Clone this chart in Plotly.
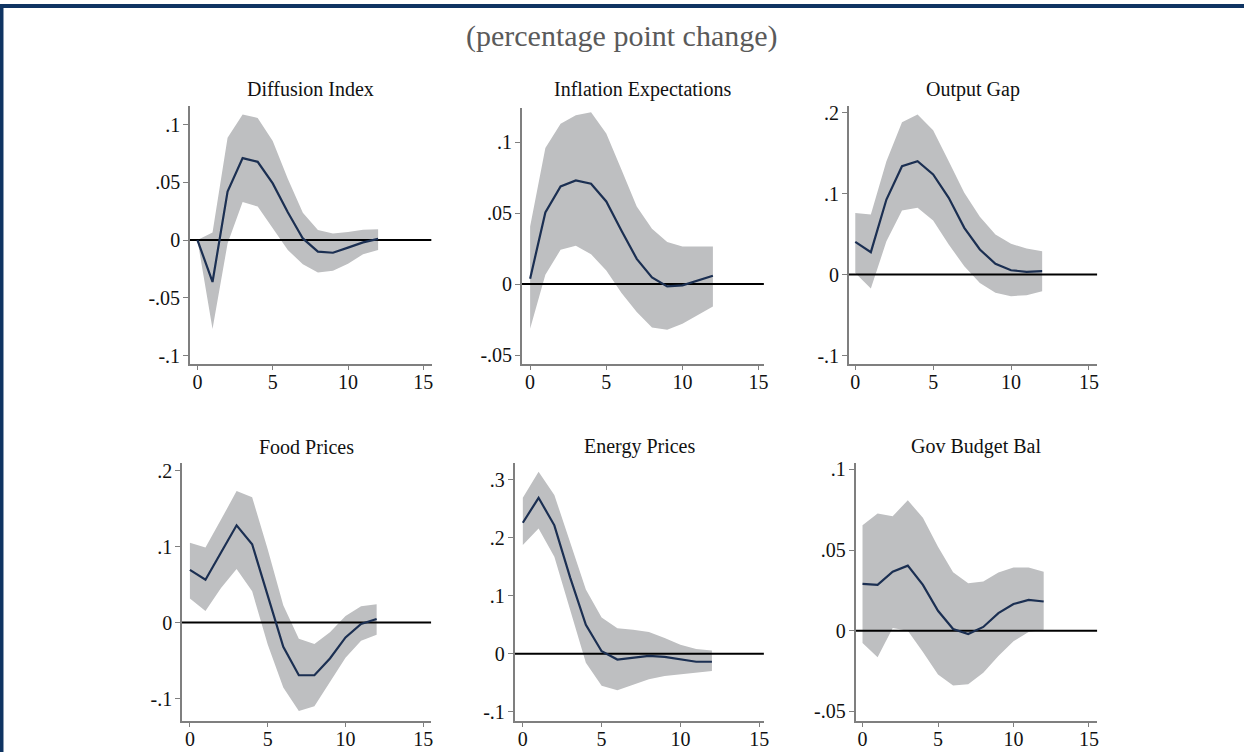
import plotly.graph_objects as go

# ---------------- data ----------------
horizon = list(range(13))
titles = ["Diffusion Index", "Inflation Expectations", "Output Gap",
          "Food Prices", "Energy Prices", "Gov Budget Bal"]

diff_mean = [0.0, -0.0363, 0.042, 0.0709, 0.0677, 0.049, 0.024, 0.0014, -0.010, -0.011, -0.0066, -0.002, 0.001]
diff_upper = [0.0, 0.0066, 0.0886, 0.1086, 0.1057, 0.0857, 0.053, 0.0237, 0.0086, 0.0057, 0.007, 0.0089, 0.0094]
diff_lower = [0.0, -0.077, -0.003, 0.033, 0.029, 0.010, -0.0086, -0.021, -0.028, -0.0266, -0.0206, -0.0123, -0.0086]

infl_mean = [0.0038, 0.0505, 0.0688, 0.073, 0.0707, 0.0582, 0.0376, 0.0178, 0.0047, -0.0016, -0.0009, 0.0023, 0.0059]
infl_upper = [0.0406, 0.0958, 0.113, 0.119, 0.121, 0.106, 0.0805, 0.0547, 0.039, 0.0296, 0.0265, 0.0265, 0.0265]
infl_lower = [-0.0315, 0.0066, 0.0242, 0.027, 0.0211, 0.0096, -0.0063, -0.0197, -0.0305, -0.0322, -0.0279, -0.0216, -0.0157]

gap_mean = [0.0403, 0.0276, 0.0926, 0.1337, 0.140, 0.1235, 0.0947, 0.0576, 0.0309, 0.0132, 0.0053, 0.0033, 0.0041]
gap_upper = [0.0761, 0.0741, 0.140, 0.188, 0.1975, 0.178, 0.140, 0.101, 0.0712, 0.0494, 0.0379, 0.0321, 0.0288]
gap_lower = [0.002, -0.0173, 0.041, 0.079, 0.0823, 0.0667, 0.037, 0.0103, -0.0103, -0.0226, -0.0267, -0.0255, -0.0206]

food_mean = [0.0693, 0.0563, 0.0922, 0.128, 0.103, 0.0338, -0.032, -0.0693, -0.0693, -0.0472, -0.0195, -0.0017, 0.0048]
food_upper = [0.105, 0.0987, 0.1355, 0.173, 0.165, 0.0965, 0.0229, -0.0212, -0.0281, -0.0126, 0.0087, 0.0216, 0.0242]
food_lower = [0.0316, 0.0152, 0.0455, 0.0706, 0.0411, -0.029, -0.0853, -0.1165, -0.110, -0.0788, -0.0463, -0.0238, -0.016]

energy_mean = [0.226, 0.269, 0.2216, 0.132, 0.050, 0.0045, -0.0097, -0.0068, -0.0034, -0.0051, -0.0091, -0.0136, -0.0136]
energy_upper = [0.269, 0.314, 0.274, 0.192, 0.111, 0.0625, 0.0443, 0.0415, 0.0375, 0.0273, 0.0159, 0.0085, 0.0057]
energy_lower = [0.1875, 0.216, 0.1676, 0.0756, -0.0153, -0.055, -0.0625, -0.0534, -0.0438, -0.038, -0.0352, -0.0335, -0.0295]

budget_mean = [0.029, 0.0284, 0.0366, 0.0403, 0.0284, 0.0123, 0.001, -0.0021, 0.0023, 0.0109, 0.0165, 0.0191, 0.0181]
budget_upper = [0.0654, 0.0726, 0.071, 0.0809, 0.070, 0.052, 0.0362, 0.0294, 0.0305, 0.036, 0.0391, 0.0391, 0.0366]
budget_lower = [-0.0076, -0.0165, 0.0016, 0.0, -0.0132, -0.0272, -0.034, -0.0333, -0.0261, -0.0158, -0.0066, -0.0008, 0.0006]

x_tickvals = [0, 5, 10, 15]
x_ticktext = ["0", "5", "10", "15"]
y_tickvals = [[-0.1, -0.05, 0, 0.05, 0.1], [-0.05, 0, 0.05, 0.1], [-0.1, 0, 0.1, 0.2],
              [-0.1, 0, 0.1, 0.2], [-0.1, 0, 0.1, 0.2, 0.3], [-0.05, 0, 0.05, 0.1]]
y_ticktext = [["-.1", "-.05", "0", ".05", ".1"], ["-.05", "0", ".05", ".1"], ["-.1", "0", ".1", ".2"],
              ["-.1", "0", ".1", ".2"], ["-.1", "0", ".1", ".2", ".3"], ["-.05", "0", ".05", ".1"]]

means = [diff_mean, infl_mean, gap_mean, food_mean, energy_mean, budget_mean]
uppers = [diff_upper, infl_upper, gap_upper, food_upper, energy_upper, budget_upper]
lowers = [diff_lower, infl_lower, gap_lower, food_lower, energy_lower, budget_lower]

# ---------------- layout ----------------
W, H = 1249, 755
boxes = [(190.7, 433.3, 103, 363), (524, 767, 105, 363), (852.3, 1101.7, 103, 363),
         (182.7, 433, 463.3, 723.3), (516.7, 767, 463.3, 723.3), (859, 1101.7, 463.3, 723.3)]
x_ranges = [(-0.50, 15.55), (-0.54, 15.35), (-0.41, 15.54), (-0.51, 15.51), (-0.52, 15.3), (-0.46, 15.55)]
y_ranges = [(-0.107, 0.116), (-0.056, 0.124), (-0.110, 0.208), (-0.129, 0.210), (-0.115, 0.329), (-0.0558, 0.104)]
title_y_px = [86, 86, 86, 447, 447, 447]

FONT = "Liberation Serif"
BAND = "#bebfc1"
LINE = "#1b2f52"
AXIS = "#7f7f7f"
TICKFONT = dict(family=FONT, size=20, color="#111111")

fig = go.Figure()
layout = dict(width=W, height=H, margin=dict(l=0, r=0, t=0, b=0),
              paper_bgcolor="white", plot_bgcolor="white", showlegend=False,
              font=dict(family=FONT, size=20, color="#111111"))
annotations = []
for i in range(6):
    n = "" if i == 0 else str(i + 1)
    xa, ya = "x" + n, "y" + n
    l, r, t, b = boxes[i]
    layout["xaxis" + n] = dict(domain=[l / W, r / W], range=list(x_ranges[i]), anchor=ya,
                               showline=True, linecolor=AXIS, linewidth=1.6, mirror=False,
                               ticks="outside", ticklen=5, tickwidth=1.3, tickcolor=AXIS,
                               tickvals=x_tickvals, ticktext=x_ticktext, showgrid=False, zeroline=False,
                               ticklabelstandoff=-5, tickfont=TICKFONT)
    layout["yaxis" + n] = dict(domain=[1 - b / H, 1 - t / H], range=list(y_ranges[i]), anchor=xa,
                               showline=True, linecolor=AXIS, linewidth=1.6,
                               ticks="outside", ticklen=5, tickwidth=1.3, tickcolor=AXIS,
                               tickvals=y_tickvals[i], ticktext=y_ticktext[i], showgrid=False, zeroline=False,
                               ticklabelstandoff=-1, tickfont=TICKFONT)
    fig.add_trace(go.Scatter(x=horizon, y=lowers[i], mode="lines", line=dict(width=0, color=BAND),
                             xaxis=xa, yaxis=ya, hoverinfo="skip"))
    fig.add_trace(go.Scatter(x=horizon, y=uppers[i], mode="lines", line=dict(width=0, color=BAND),
                             fill="tonexty", fillcolor=BAND, xaxis=xa, yaxis=ya, hoverinfo="skip"))
    fig.add_trace(go.Scatter(x=list(x_ranges[i]), y=[0, 0], mode="lines", line=dict(width=2, color="black"),
                             xaxis=xa, yaxis=ya, hoverinfo="skip"))
    fig.add_trace(go.Scatter(x=horizon, y=means[i], mode="lines", line=dict(width=2.2, color=LINE),
                             xaxis=xa, yaxis=ya))
    annotations.append(dict(text=titles[i], x=(l + r) / 2 / W, y=1 - title_y_px[i] / H,
                            xref="paper", yref="paper", xanchor="center", yanchor="middle",
                            showarrow=False, font=dict(family=FONT, size=20, color="#111111")))

annotations.append(dict(text="(percentage point change)", x=624 / W, y=1 - 32 / H, xref="paper", yref="paper",
                        xanchor="center", yanchor="middle", showarrow=False,
                        font=dict(family=FONT, size=30, color="#5a5a5a")))
layout["annotations"] = annotations
layout["shapes"] = [
    dict(type="rect", xref="paper", yref="paper", x0=0, x1=1, y0=1 - 4 / H, y1=1,
         fillcolor="#0f3462", line=dict(width=0)),
    dict(type="rect", xref="paper", yref="paper", x0=0, x1=3.5 / W, y0=0, y1=1,
         fillcolor="#0f3462", line=dict(width=0)),
]
fig.update_layout(**layout)
fig.write_html("out.html", config={"displayModeBar": False},
               post_script="document.body.style.margin='0';document.body.style.overflow='hidden';")
